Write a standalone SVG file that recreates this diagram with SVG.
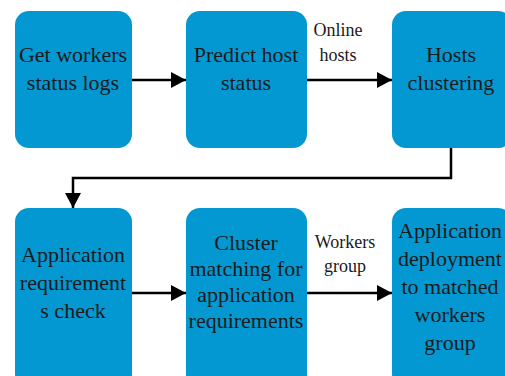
<svg xmlns="http://www.w3.org/2000/svg" width="505" height="376" viewBox="0 0 505 376">
  <style>
    .box { fill: #0398d2; }
    .t { font-family: "Liberation Serif", "Times New Roman", "DejaVu Serif", serif; font-size: 22px; fill: #1a1a1a; text-anchor: middle; }
    .lbl { font-family: "Liberation Serif", "Times New Roman", "DejaVu Serif", serif; font-size: 18px; fill: #1a1a1a; text-anchor: middle; }
    .wire { fill: none; stroke: #000; stroke-width: 2.5; }
  </style>
  <defs>
    <marker id="arrowL" markerWidth="15" markerHeight="16" refX="15" refY="8" orient="auto" markerUnits="userSpaceOnUse" viewBox="0 0 15 16">
      <path d="M0,0 L15,8 L0,16 Z" fill="#000"/>
    </marker>
  </defs>
  <rect width="505" height="376" fill="#fff"/>

  <g id="connectors">
    <line class="wire" x1="132" y1="80" x2="186" y2="80" marker-end="url(#arrowL)"/>
    <line class="wire" x1="307" y1="80" x2="392" y2="80" marker-end="url(#arrowL)"/>
    <polyline class="wire" points="451,148 451,178 73,178 73,208" marker-end="url(#arrowL)"/>
    <line class="wire" x1="132" y1="293" x2="186" y2="293" marker-end="url(#arrowL)"/>
    <line class="wire" x1="307" y1="293" x2="392" y2="293" marker-end="url(#arrowL)"/>
    <text class="lbl" x="338" y="36">Online</text>
    <text class="lbl" x="338" y="61">hosts</text>
    <text class="lbl" x="345" y="248">Workers</text>
    <text class="lbl" x="345" y="272">group</text>
  </g>

  <g id="get-logs">
    <rect class="box" x="15" y="11" width="117" height="137" rx="14"/>
    <text class="t" x="73" y="62">Get workers</text>
    <text class="t" x="73" y="90">status logs</text>
  </g>
  <g id="predict-status">
    <rect class="box" x="186" y="11" width="121" height="137" rx="14"/>
    <text class="t" x="246" y="62">Predict host</text>
    <text class="t" x="246" y="90">status</text>
  </g>
  <g id="hosts-clustering">
    <rect class="box" x="392" y="11" width="120" height="137" rx="14"/>
    <text class="t" x="451" y="62">Hosts</text>
    <text class="t" x="451" y="90">clustering</text>
  </g>
  <g id="requirements-check">
    <rect class="box" x="15" y="208" width="117" height="180" rx="14"/>
    <text class="t" x="73" y="262">Application</text>
    <text class="t" x="73" y="290">requirement</text>
    <text class="t" x="73" y="318">s check</text>
  </g>
  <g id="cluster-matching">
    <rect class="box" x="186" y="208" width="121" height="180" rx="14"/>
    <text class="t" x="246" y="250">Cluster</text>
    <text class="t" x="246" y="276">matching for</text>
    <text class="t" x="246" y="302">application</text>
    <text class="t" x="246" y="328">requirements</text>
  </g>
  <g id="app-deployment">
    <rect class="box" x="392" y="208" width="120" height="180" rx="14"/>
    <text class="t" x="450" y="238">Application</text>
    <text class="t" x="450" y="266">deployment</text>
    <text class="t" x="450" y="294">to matched</text>
    <text class="t" x="450" y="322">workers</text>
    <text class="t" x="450" y="350">group</text>
  </g>
</svg>
